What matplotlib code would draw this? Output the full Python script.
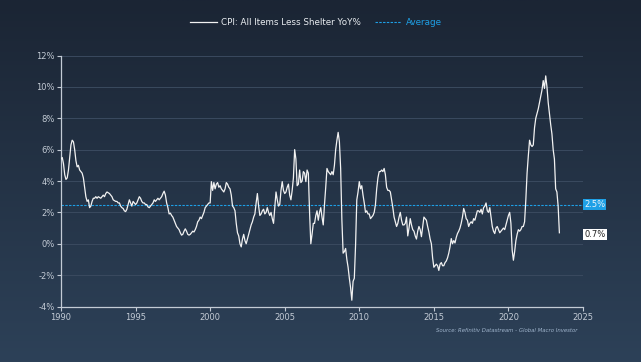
import numpy as np
import matplotlib
matplotlib.use("Agg")
import matplotlib.pyplot as plt

# ---------------- data ----------------
start_year = 1990
cpi_yoy = [
    # 1990
    5.4, 5.5, 5.1, 4.4, 4.1, 4.2, 4.7, 5.5, 6.3, 6.6, 6.5, 6.0,
    # 1991
    5.3, 4.9, 5.0, 4.7, 4.6, 4.5, 4.2, 3.6, 3.0, 2.7, 2.8, 2.3,
    # 1992
    2.4, 2.7, 2.9, 2.9, 3.0, 2.9, 3.0, 2.95, 2.9, 3.0, 3.1, 3.0,
    # 1993
    3.2, 3.3, 3.25, 3.2, 3.1, 3.0, 2.8, 2.75, 2.7, 2.7, 2.6, 2.6,
    # 1994
    2.4, 2.3, 2.25, 2.1, 2.05, 2.2, 2.5, 2.8, 2.6, 2.4, 2.7, 2.6,
    # 1995
    2.5, 2.6, 2.8, 3.0, 2.9, 2.7, 2.6, 2.6, 2.5, 2.5, 2.35, 2.3,
    # 1996
    2.4, 2.5, 2.6, 2.8, 2.7, 2.8, 2.9, 2.8, 2.9, 3.0, 3.2, 3.35,
    # 1997
    3.1, 2.6, 2.3, 1.9, 1.95, 1.8, 1.7, 1.5, 1.3, 1.1, 1.0, 0.9,
    # 1998
    0.7, 0.55, 0.6, 0.8, 0.95, 0.8, 0.6, 0.55, 0.6, 0.7, 0.8, 0.75,
    # 1999
    0.9, 1.1, 1.4, 1.5, 1.7, 1.6, 1.8, 2.0, 2.3, 2.4, 2.5, 2.6,
    # 2000
    2.6, 3.96, 3.4, 3.9, 3.5, 3.8, 3.9, 3.6, 3.7, 3.5, 3.4, 3.3,
    # 2001
    3.5, 3.9, 3.8, 3.6, 3.5, 3.1, 2.4, 2.3, 2.1, 1.3, 0.7, 0.5,
    # 2002
    0.0, -0.2, 0.3, 0.6, 0.2, 0.0, 0.3, 0.6, 0.9, 1.2, 1.4, 1.7,
    # 2003
    1.9, 2.6, 3.2, 2.4, 1.8, 1.9, 2.1, 2.2, 1.9, 2.0, 2.3, 2.0,
    # 2004
    1.8, 2.0, 1.6, 1.3, 2.3, 3.3, 2.8, 2.4, 2.5, 3.4, 3.96, 3.4,
    # 2005
    3.2, 3.3, 3.6, 3.8, 3.1, 2.8, 3.4, 4.2, 6.0, 5.4, 3.7, 3.8,
    # 2006
    4.7, 3.9, 4.0, 4.6, 4.5, 3.96, 4.7, 4.5, 2.0, 0.0, 0.6, 1.3,
    # 2007
    1.3, 1.8, 2.1, 1.5, 2.0, 2.3, 1.7, 1.2, 2.5, 3.6, 4.8, 4.6,
    # 2008
    4.5, 4.4, 4.6, 4.4, 5.0, 6.0, 6.6, 7.1, 6.5, 4.8, 1.5, -0.6,
    # 2009
    -0.5, -0.3, -1.0, -1.5, -2.2, -2.8, -3.6, -2.4, -2.2, -0.1, 2.8, 3.3,
    # 2010
    3.96, 3.5, 3.7, 3.1, 2.6, 2.0, 2.1, 1.9, 1.9, 1.6, 1.7, 1.8,
    # 2011
    2.0, 2.5, 3.5, 4.2, 4.6, 4.6, 4.7, 4.6, 4.8, 4.4, 3.6, 3.4,
    # 2012
    3.4, 3.3, 2.8, 2.3, 1.7, 1.4, 1.1, 1.3, 1.7, 2.0, 1.5, 1.2,
    # 2013
    1.2, 1.3, 1.7, 0.5, 1.0, 1.6, 1.2, 0.9, 0.8, 0.5, 0.3, 0.8,
    # 2014
    1.1, 0.9, 0.45, 1.1, 1.7, 1.6, 1.5, 1.1, 0.75, 0.3, 0.0, -0.9,
    # 2015
    -1.5, -1.4, -1.3, -1.4, -1.7, -1.3, -1.2, -1.4, -1.4, -1.2, -1.1, -0.9,
    # 2016
    -0.6, -0.2, 0.33, 0.0, 0.2, 0.05, 0.4, 0.65, 0.8, 1.0, 1.3, 1.7,
    # 2017
    2.25, 2.0, 1.6, 1.5, 1.1, 1.3, 1.4, 1.3, 1.6, 1.5, 1.8, 2.1,
    # 2018
    2.1, 2.0, 2.2, 1.9, 2.3, 2.4, 2.6, 2.1, 2.0, 2.3, 1.7, 1.1,
    # 2019
    0.8, 0.65, 1.0, 1.1, 0.9, 0.7, 0.8, 0.9, 1.0, 0.9, 1.2, 1.5,
    # 2020
    1.8, 2.0, 1.3, -0.4, -1.05, -0.5, 0.2, 0.6, 0.9, 0.8, 0.9, 1.1,
    # 2021
    1.1, 1.4, 2.8, 4.5, 5.6, 6.6, 6.3, 6.2, 6.3, 7.4, 8.0, 8.3,
    # 2022
    8.6, 9.0, 9.4, 9.8, 10.4, 9.9, 10.7, 10.0, 9.0, 8.3, 7.6, 7.0,
    # 2023
    6.0, 5.4, 3.5, 3.3, 2.4, 0.7,
]
average_value = 2.5
latest_value = cpi_yoy[-1]

series_label = "CPI: All Items Less Shelter YoY%"
average_label = "Average"
source_text = "Source: Refinitiv Datastream - Global Macro Investor"
x_ticks = [1990, 1995, 2000, 2005, 2010, 2015, 2020, 2025]
y_ticks = [-4, -2, 0, 2, 4, 6, 8, 10, 12]

dates = start_year + np.arange(len(cpi_yoy)) / 12.0

# ---------------- style ----------------
W, H, DPI = 641, 362, 100
fig = plt.figure(figsize=(W / DPI, H / DPI), dpi=DPI)

# gradient background
bg = fig.add_axes([0, 0, 1, 1], zorder=-10)
top = np.array([0x1b, 0x25, 0x34]) / 255.0
bot = np.array([0x2d, 0x41, 0x58]) / 255.0
t = np.linspace(0, 1, 256)[:, None]
grad = top[None, :] * (1 - t) + bot[None, :] * t
bg.imshow(grad[:, None, :].repeat(2, axis=1), aspect="auto", extent=[0, 1, 0, 1])
bg.set_axis_off()

ax = fig.add_axes([61 / W, 1 - 306.5 / H, (583 - 61) / W, (306.5 - 55.5) / H])
ax.patch.set_alpha(0)

tick_col = "#c3cbd5"
grid_col = "#3a4a5f"
blue = "#1ea0e6"

for yv in y_ticks[1:]:
    ax.axhline(yv, color=grid_col, lw=0.7, zorder=1)

ax.plot(dates, cpi_yoy, color="#f2f2f2", lw=0.9, zorder=3, label=series_label)
ax.axhline(average_value, color=blue, lw=0.8, ls=(0, (2.2, 1.2)), zorder=2,
           label=average_label)

ax.set_xlim(1990, 2025)
ax.set_ylim(-4, 12)
ax.set_xticks(x_ticks)
ax.set_xticklabels([str(v) for v in x_ticks])
ax.set_yticks(y_ticks)
ax.set_yticklabels([f"{v}%" for v in y_ticks])

for s in ["top", "right"]:
    ax.spines[s].set_visible(False)
for s in ["left", "bottom"]:
    ax.spines[s].set_color(tick_col)
    ax.spines[s].set_linewidth(0.9)
ax.tick_params(axis="both", colors=tick_col, labelsize=6, length=3, width=0.8,
               direction="out", pad=1.5)

# right-side value labels
ax.annotate(f"{average_value:.1f}%", xy=(1.002, average_value),
            xycoords=("axes fraction", "data"), ha="left", va="center",
            fontsize=6, color="#eaf4fb",
            bbox=dict(boxstyle="square,pad=0.15", fc=blue, ec="none"))
ax.annotate(f"{latest_value:.1f}%", xy=(1.002, latest_value - 0.1),
            xycoords=("axes fraction", "data"), ha="left", va="center",
            fontsize=6, color="#222222",
            bbox=dict(boxstyle="square,pad=0.15", fc="white", ec="none"))

# legend
leg = fig.legend(loc="center", bbox_to_anchor=(0.493, 0.937), ncol=2,
                 frameon=False, fontsize=6.3, handlelength=3.0,
                 columnspacing=1.6, handletextpad=0.5)
for txt, col in zip(leg.get_texts(), ["#e8ecf0", blue]):
    txt.set_color(col)

fig.text(577 / W, 1 - 330 / H, source_text, ha="right", va="center",
         fontsize=3.9, style="italic", color="#9fb4cc")

fig.savefig("out.png", dpi=DPI)
